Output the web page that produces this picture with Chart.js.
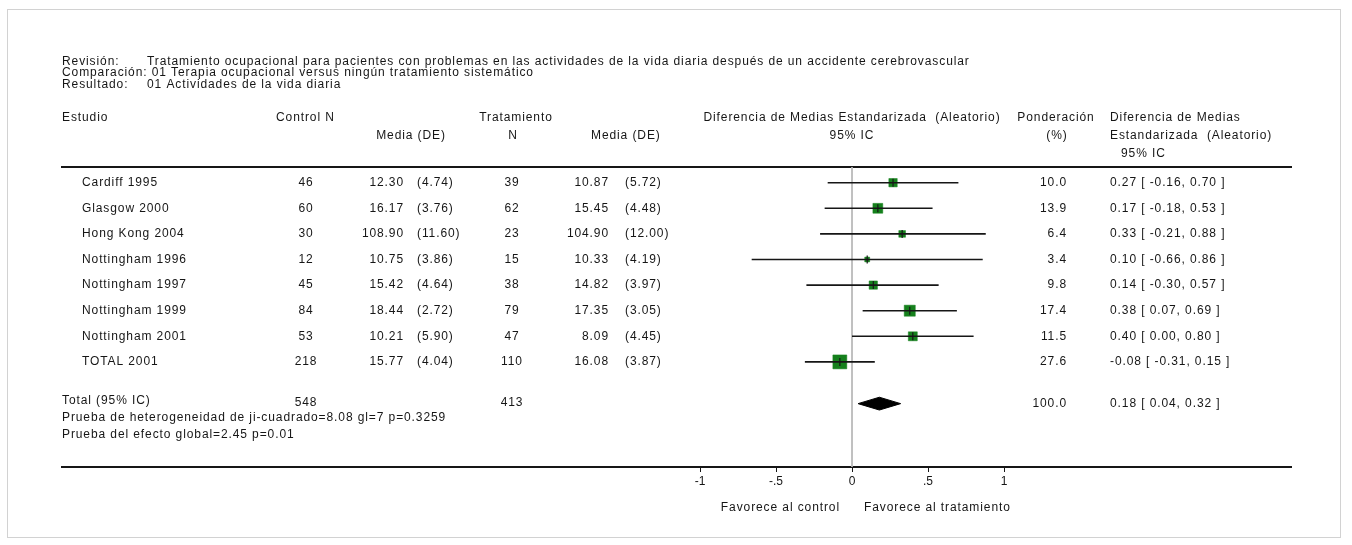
<!DOCTYPE html>
<html>
<head>
<meta charset="utf-8">
<script src="https://cdn.jsdelivr.net/npm/chart.js@4.4.1/dist/chart.umd.min.js"></script>
<style>
  html, body { margin: 0; padding: 0; background: #fff; }
  canvas { display: block; }
</style>
</head>
<body>
<canvas id="forest" width="1352" height="545"></canvas>
<script>
// Forest plot data
const studies = ['Cardiff 1995', 'Glasgow 2000', 'Hong Kong 2004', 'Nottingham 1996', 'Nottingham 1997', 'Nottingham 1999', 'Nottingham 2001', 'TOTAL 2001'];
const ctrlN = [46, 60, 30, 12, 45, 84, 53, 218];
const ctrlMean = [12.30, 16.17, 108.90, 10.75, 15.42, 18.44, 10.21, 15.77];
const ctrlSD = [4.74, 3.76, 11.60, 3.86, 4.64, 2.72, 5.90, 4.04];
const trtN = [39, 62, 23, 15, 38, 79, 47, 110];
const trtMean = [10.87, 15.45, 104.90, 10.33, 14.82, 17.35, 8.09, 16.08];
const trtSD = [5.72, 4.48, 12.00, 4.19, 3.97, 3.05, 4.45, 3.87];
const smd = [0.27, 0.17, 0.33, 0.10, 0.14, 0.38, 0.40, -0.08];
const ciLow = [-0.16, -0.18, -0.21, -0.66, -0.30, 0.07, 0.00, -0.31];
const ciHigh = [0.70, 0.53, 0.88, 0.86, 0.57, 0.69, 0.80, 0.15];
const weights = [10.0, 13.9, 6.4, 3.4, 9.8, 17.4, 11.5, 27.6];

const totalCtrlN = 548;
const totalTrtN = 413;
const totalSmd = 0.18;
const totalLow = 0.04;
const totalHigh = 0.32;
const totalWeight = 100.0;
const heterogeneity = 'Prueba de heterogeneidad de ji-cuadrado=8.08 gl=7 p=0.3259';
const overallEffect = 'Prueba del efecto global=2.45 p=0.01';

const xTicks = [-1, -0.5, 0, 0.5, 1];

// layout
const W = 1352, H = 545;
const TABLE_L = 62, TABLE_R = 1291;
const ZERO_PX = 852, UNIT_PX = 152;
const AREA_TOP = 167, AREA_BOTTOM = 467;
const ROW0_PX = 182.7, ROW_PX = 25.6;
const TOTAL_ROW = 8.63;
const FAMILY = '"Liberation Sans", Arial, sans-serif';
const FONT = '12px ' + FAMILY;
const SPACING = '0.9px';
const INK = '#161616';

const xMin = -(ZERO_PX - TABLE_L) / UNIT_PX;
const xMax = (TABLE_R - ZERO_PX) / UNIT_PX;
const yMin = -(ROW0_PX - AREA_TOP) / ROW_PX;
const yMax = yMin + (AREA_BOTTOM - AREA_TOP) / ROW_PX;

function fmt(v) { return v.toFixed(2); }
function fmtTick(v) {
  if (v === 0) {return '0';}
  return String(v).replace('0.', '.');
}
function boxRadius(w) { return 2.65 * Math.sqrt(w) / Math.SQRT2; }

const datasets = [];

datasets.push({
  label: 'zero',
  data: [{ x: 0, y: yMin }, { x: 0, y: yMax }],
  showLine: true, borderColor: '#b8b8b8', borderWidth: 1, pointRadius: 0, order: 10
});

studies.forEach((s, i) => {
  datasets.push({
    label: s,
    data: [{ x: ciLow[i], y: i }, { x: ciHigh[i], y: i }],
    showLine: true, borderColor: INK, borderWidth: 1.6, pointRadius: 0, order: 1
  });
});

datasets.push({
  label: 'weights',
  data: smd.map((v, i) => ({ x: v, y: i })),
  pointStyle: 'rect',
  pointRadius: weights.map(boxRadius),
  backgroundColor: '#15801c', borderColor: '#15801c', borderWidth: 0.5, order: 3
});

datasets.push({
  label: 'estimates',
  data: smd.map((v, i) => ({ x: v, y: i })),
  pointStyle: 'line', rotation: 90, pointRadius: 4,
  borderColor: INK, borderWidth: 1.2, order: 0
});

const dh = 0.25;
datasets.push({
  label: 'total',
  data: [
    { x: totalLow, y: TOTAL_ROW }, { x: totalSmd, y: TOTAL_ROW - dh },
    { x: totalHigh, y: TOTAL_ROW }, { x: totalSmd, y: TOTAL_ROW + dh },
    { x: totalLow, y: TOTAL_ROW }
  ],
  showLine: true, fill: 'shape', backgroundColor: '#000', borderColor: '#000',
  borderWidth: 1, pointRadius: 0, order: 0
});

function text(ctx, str, x, y, align) {
  ctx.textAlign = align || 'left';
  ctx.fillText(str, x, y);
}

const tablePlugin = {
  id: 'forestTable',
  beforeDraw(chart) {
    const ctx = chart.ctx;
    ctx.save();
    ctx.fillStyle = '#fff';
    ctx.fillRect(0, 0, W, H);
    ctx.strokeStyle = '#d2d2d2';
    ctx.lineWidth = 1;
    ctx.strokeRect(7.5, 9.5, 1333, 528);
    ctx.restore();
  },
  afterDraw(chart) {
    const ctx = chart.ctx;
    const ys = chart.scales.y;
    const xs = chart.scales.x;
    ctx.save();
    ctx.font = FONT;
    ctx.fillStyle = INK;
    ctx.textBaseline = 'middle';
    try { ctx.letterSpacing = SPACING; } catch (e) { /* ignore */ }

    // review info
    text(ctx, 'Revisión:', TABLE_L, 61.5);
    text(ctx, 'Tratamiento ocupacional para pacientes con problemas en las actividades de la vida diaria después de un accidente cerebrovascular', 147, 61.5);
    text(ctx, 'Comparación: 01 Terapia ocupacional versus ningún tratamiento sistemático', TABLE_L, 73);
    text(ctx, 'Resultado:', TABLE_L, 84.5);
    text(ctx, '01 Actividades de la vida diaria', 147, 84.5);

    // column headers
    const h1 = 117.5, h2 = 135.5, h3 = 153.5;
    const x0 = xs.getPixelForValue(0);
    text(ctx, 'Estudio', TABLE_L, h1);
    text(ctx, 'Control N', 276, h1);
    text(ctx, 'Tratamiento', 516, h1, 'center');
    text(ctx, 'Diferencia de Medias Estandarizada  (Aleatorio)', x0, h1, 'center');
    text(ctx, 'Ponderación', 1056, h1, 'center');
    text(ctx, 'Diferencia de Medias', 1110, h1);
    text(ctx, 'Media (DE)', 411, h2, 'center');
    text(ctx, 'N', 513, h2, 'center');
    text(ctx, 'Media (DE)', 591, h2);
    text(ctx, '95% IC', x0, h2, 'center');
    text(ctx, '(%)', 1057, h2, 'center');
    text(ctx, 'Estandarizada  (Aleatorio)', 1110, h2);
    text(ctx, '95% IC', 1121, h3);

    // study rows
    studies.forEach((s, i) => {
      const y = ys.getPixelForValue(i);
      text(ctx, s, 82, y);
      text(ctx, String(ctrlN[i]), 306, y, 'center');
      text(ctx, fmt(ctrlMean[i]), 404, y, 'right');
      text(ctx, '(' + fmt(ctrlSD[i]) + ')', 417, y);
      text(ctx, String(trtN[i]), 512, y, 'center');
      text(ctx, fmt(trtMean[i]), 609, y, 'right');
      text(ctx, '(' + fmt(trtSD[i]) + ')', 625, y);
      text(ctx, weights[i].toFixed(1), 1067, y, 'right');
      text(ctx, fmt(smd[i]) + ' [ ' + fmt(ciLow[i]) + ', ' + fmt(ciHigh[i]) + ' ]', 1110, y);
    });

    // total row
    const ty = ys.getPixelForValue(TOTAL_ROW);
    text(ctx, 'Total (95% IC)', TABLE_L, ty - 3);
    text(ctx, String(totalCtrlN), 306, ty - 1, 'center');
    text(ctx, String(totalTrtN), 512, ty - 1, 'center');
    text(ctx, totalWeight.toFixed(1), 1067, ty, 'right');
    text(ctx, fmt(totalSmd) + ' [ ' + fmt(totalLow) + ', ' + fmt(totalHigh) + ' ]', 1110, ty);
    text(ctx, heterogeneity, TABLE_L, ty + 14);
    text(ctx, overallEffect, TABLE_L, ty + 31.3);

    // favours labels
    text(ctx, 'Favorece al control', x0 - 12, 507.7, 'right');
    text(ctx, 'Favorece al tratamiento', x0 + 12, 507.7);
    ctx.restore();
  }
};

new Chart(document.getElementById('forest'), {
  type: 'scatter',
  data: { datasets },
  plugins: [tablePlugin],
  options: {
    responsive: false,
    animation: false,
    devicePixelRatio: 1,
    layout: { padding: { left: TABLE_L, right: W - TABLE_R, top: AREA_TOP, bottom: 0 } },
    plugins: { legend: { display: false }, tooltip: { enabled: false } },
    scales: {
      x: {
        type: 'linear', position: 'bottom', min: xMin, max: xMax,
        afterBuildTicks: (scale) => { scale.ticks = xTicks.map(v => ({ value: v })); },
        afterFit: (scale) => { scale.height = H - AREA_BOTTOM; },
        grid: { drawOnChartArea: false, drawTicks: true, tickLength: 5, color: INK, lineWidth: 1 },
        border: { display: true, color: INK, width: 2 },
        ticks: {
          autoSkip: false, maxRotation: 0, padding: 2, color: INK,
          font: { family: FAMILY, size: 12 },
          callback: (v) => fmtTick(v)
        }
      },
      xTop: {
        type: 'linear', position: 'top', min: xMin, max: xMax,
        afterFit: (scale) => { scale.height = 0; },
        grid: { display: false },
        border: { display: true, color: INK, width: 2 },
        ticks: { display: false }
      },
      y: {
        type: 'linear', reverse: true, min: yMin, max: yMax, display: false
      }
    }
  }
});
</script>
</body>
</html>
